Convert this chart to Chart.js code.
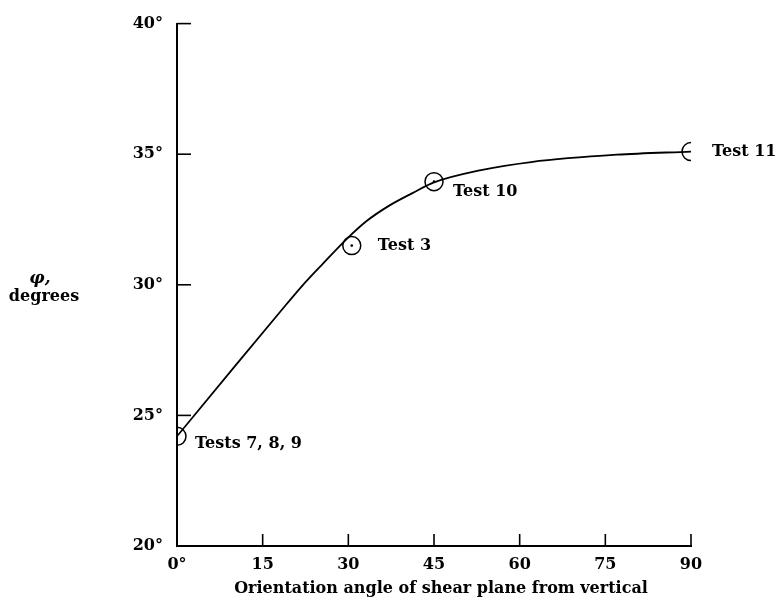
<!DOCTYPE html>
<html>
<head>
<meta charset="utf-8">
<script src="https://cdn.jsdelivr.net/npm/chart.js@4/dist/chart.umd.min.js"></script>
<style>
  html, body { margin: 0; padding: 0; background: #ffffff; }
  canvas { display: block; }
</style>
</head>
<body>
<canvas id="c" width="783" height="616"></canvas>
<script>
// ---- data ----
const xTicks = [0, 15, 30, 45, 60, 75, 90];
const yTicks = [20, 25, 30, 35, 40];

const testLabels = ['Tests 7, 8, 9', 'Test 3', 'Test 10', 'Test 11'];
const testAngle  = [0, 30.6, 45.0, 90.0];
const testPhi    = [24.2, 31.5, 33.95, 35.1];
const testDotted = [false, true, true, false];

const curveAngle = [0, 10, 18, 22, 25.6, 29.7, 33.2, 37.3, 41.3, 45, 53, 62, 77, 90];
const curvePhi   = [24.2, 26.85, 28.95, 29.98, 30.82, 31.75, 32.44, 33.05, 33.52, 33.92, 34.38, 34.7, 34.98, 35.1];

const xTitle = 'Orientation angle of shear plane from vertical';
const yTitleLines = ['\u03C6,', 'degrees'];

const FONT = '"DejaVu Serif", "Liberation Serif", serif';

const labelOffsets = [[18, 8], [26, 0], [19, 10], [21, 0]];

const extras = {
  id: 'extras',
  afterDraw(chart) {
    const ctx = chart.ctx;
    const xs = chart.scales.x, ys = chart.scales.y;
    const area = chart.chartArea;
    ctx.save();
    ctx.strokeStyle = '#000';
    ctx.lineWidth = 1.6;
    // inward y ticks
    yTicks.forEach(v => {
      if (v === 20) return;
      const py = ys.getPixelForValue(v);
      ctx.beginPath();
      ctx.moveTo(area.left, py);
      ctx.lineTo(area.left + 14, py);
      ctx.stroke();
    });
    // inward x ticks
    xTicks.forEach(v => {
      if (v === 0) return;
      const px = xs.getPixelForValue(v);
      ctx.beginPath();
      ctx.moveTo(px, area.bottom);
      ctx.lineTo(px, area.bottom - 12);
      ctx.stroke();
    });
    // centre dots
    ctx.fillStyle = '#000';
    testAngle.forEach((a, i) => {
      if (!testDotted[i]) return;
      ctx.beginPath();
      ctx.arc(xs.getPixelForValue(a), ys.getPixelForValue(testPhi[i]), 1.3, 0, Math.PI * 2);
      ctx.fill();
    });
    // point labels
    ctx.font = 'bold 16px ' + FONT;
    ctx.textAlign = 'left';
    ctx.textBaseline = 'middle';
    testLabels.forEach((t, i) => {
      const px = xs.getPixelForValue(testAngle[i]) + labelOffsets[i][0];
      const py = ys.getPixelForValue(testPhi[i]) + labelOffsets[i][1];
      ctx.fillText(t, px, py);
    });
    // y title (horizontal)
    ctx.textAlign = 'center';
    ctx.font = 'italic bold 17px ' + FONT;
    ctx.fillText(yTitleLines[0], 40, 279);
    ctx.font = 'bold 16px ' + FONT;
    ctx.fillText(yTitleLines[1], 44, 297);
    // x title
    ctx.font = 'bold 16px ' + FONT;
    ctx.fillText(xTitle, 441, 589);
    ctx.restore();
  }
};

new Chart(document.getElementById('c'), {
  type: 'scatter',
  data: {
    datasets: [
      {
        label: 'curve',
        type: 'line',
        data: curveAngle.map((a, i) => ({ x: a, y: curvePhi[i] })),
        borderColor: '#000',
        borderWidth: 1.8,
        pointRadius: 0,
        fill: false,
        cubicInterpolationMode: 'monotone'
      },
      {
        label: 'tests',
        data: testAngle.map((a, i) => ({ x: a, y: testPhi[i] })),
        pointStyle: 'circle',
        pointRadius: 9,
        pointBorderWidth: 1.5,
        borderColor: '#000',
        backgroundColor: 'rgba(0,0,0,0)',
        pointBackgroundColor: 'rgba(0,0,0,0)'
      }
    ]
  },
  options: {
    responsive: false,
    animation: false,
    layout: { padding: { left: 0, top: 18, right: 92, bottom: 0 } },
    plugins: { legend: { display: false }, tooltip: { enabled: false } },
    scales: {
      x: {
        type: 'linear',
        min: 0, max: 90,
        afterBuildTicks: s => { s.ticks = xTicks.map(v => ({ value: v })); },
        afterFit: s => { s.height = 70; },
        grid: { display: false, drawTicks: false },
        border: { display: true, color: '#000', width: 2 },
        ticks: {
          padding: 9,
          color: '#000',
          font: { family: FONT, size: 16, weight: 'bold' },
          maxRotation: 0,
          callback: v => v === 0 ? '0\u00B0' : String(v)
        }
      },
      y: {
        type: 'linear',
        min: 20, max: 40,
        afterBuildTicks: s => { s.ticks = yTicks.map(v => ({ value: v })); },
        afterFit: s => { s.width = 177; },
        grid: { display: false, drawTicks: false },
        border: { display: true, color: '#000', width: 2 },
        ticks: {
          padding: 14,
          color: '#000',
          font: { family: FONT, size: 16, weight: 'bold' },
          callback: v => v + '\u00B0'
        }
      }
    }
  },
  plugins: [extras]
});
</script>
</body>
</html>
